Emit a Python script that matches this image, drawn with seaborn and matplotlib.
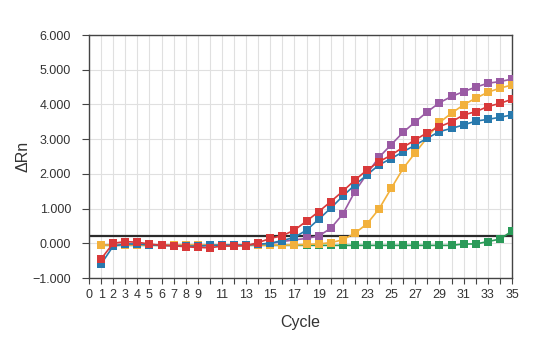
import numpy as np
import pandas as pd
import seaborn as sns
import matplotlib
matplotlib.use("Agg")
import matplotlib.pyplot as plt
from matplotlib.ticker import FuncFormatter

cycles = list(range(1, 36))

blue = [-0.60, -0.08, -0.02, -0.02, -0.05, -0.06, -0.07, -0.08, -0.08, -0.06,
        -0.05, -0.05, -0.05, -0.03, 0.00, 0.08, 0.17, 0.38, 0.69, 1.01,
        1.36, 1.68, 1.97, 2.26, 2.44, 2.64, 2.83, 3.03, 3.22, 3.31,
        3.41, 3.52, 3.57, 3.63, 3.70]
red = [-0.45, 0.00, 0.05, 0.03, -0.02, -0.06, -0.07, -0.10, -0.12, -0.13,
       -0.08, -0.08, -0.07, 0.02, 0.14, 0.22, 0.38, 0.64, 0.91, 1.20,
       1.50, 1.82, 2.11, 2.35, 2.54, 2.77, 2.98, 3.19, 3.36, 3.50,
       3.70, 3.79, 3.94, 4.03, 4.15]
purple = [-0.05, -0.04, -0.03, -0.03, -0.04, -0.05, -0.06, -0.07, -0.07, -0.06,
          -0.05, -0.05, -0.05, -0.03, 0.00, 0.05, 0.10, 0.14, 0.21, 0.43,
          0.84, 1.49, 2.00, 2.48, 2.84, 3.20, 3.50, 3.79, 4.05, 4.23,
          4.37, 4.50, 4.61, 4.66, 4.73]
orange = [-0.05, -0.05, -0.05, -0.05, -0.05, -0.05, -0.05, -0.05, -0.05, -0.05,
          -0.05, -0.05, -0.05, -0.05, -0.05, -0.05, -0.05, -0.03, -0.02, 0.02,
          0.10, 0.29, 0.56, 0.99, 1.58, 2.16, 2.61, 3.05, 3.48, 3.75,
          3.99, 4.18, 4.35, 4.47, 4.56]
green = [-0.06, -0.06, -0.06, -0.06, -0.06, -0.06, -0.06, -0.06, -0.06, -0.06,
         -0.06, -0.06, -0.06, -0.06, -0.06, -0.06, -0.06, -0.06, -0.06, -0.06,
         -0.06, -0.06, -0.06, -0.06, -0.06, -0.06, -0.06, -0.06, -0.06, -0.06,
         -0.02, -0.02, 0.05, 0.12, 0.35]
threshold = 0.2

series_names = ["green", "purple", "orange", "blue", "red"]
series_values = [green, purple, orange, blue, red]
series_colors = ["#2a9a58", "#9a5ba4", "#f2b13c", "#2879ad", "#d8393a"]

x_tick_positions = list(range(0, 36))
x_tick_labels = [str(c) if (c <= 9 or c % 2 == 1) else "" for c in x_tick_positions]
y_ticks = [-1, 0, 1, 2, 3, 4, 5, 6]

df = pd.concat([pd.DataFrame({"Cycle": cycles, "dRn": v, "Sample": n})
                for n, v in zip(series_names, series_values)], ignore_index=True)

sns.set_theme(style="white")
plt.rcParams["font.family"] = ["Liberation Sans", "DejaVu Sans"]

fig = plt.figure(figsize=(5.43, 3.46), dpi=100)
ax = fig.add_axes([0.1639, 0.1965, 0.9429 - 0.1639, 0.8988 - 0.1965])

ax.axhline(threshold, color="#2b2b2b", lw=1.6, zorder=2)

sns.lineplot(data=df, x="Cycle", y="dRn", hue="Sample", hue_order=series_names,
             palette=dict(zip(series_names, series_colors)), marker="s",
             markersize=5.5, markeredgewidth=0, linewidth=1.2, legend=False,
             ax=ax, zorder=3)

ax.set_xlim(0, 35)
ax.set_ylim(-1, 6)
ax.set_xticks(x_tick_positions)
ax.set_xticklabels(x_tick_labels)
ax.set_yticks(y_ticks)
ax.yaxis.set_major_formatter(FuncFormatter(lambda v, p: f"{v:.3f}".replace("-", "\u2212")))

ax.grid(True, color="#e0e0e0", lw=0.8)
ax.set_axisbelow(True)
for s in ax.spines.values():
    s.set_color("#444444")
    s.set_linewidth(1.0)

ax.tick_params(axis="both", which="major", direction="out", length=4, width=0.8,
               color="#444444", labelsize=9, labelcolor="#333333")
ax.tick_params(axis="x", bottom=True, pad=4)
ax.tick_params(axis="y", left=True, length=5, pad=8)

ax.set_xlabel("Cycle", fontsize=11.5, color="#333333", labelpad=10)
ax.set_ylabel("ΔRn", fontsize=11.5, color="#333333", labelpad=1)

fig.savefig("out.png", dpi=100)
